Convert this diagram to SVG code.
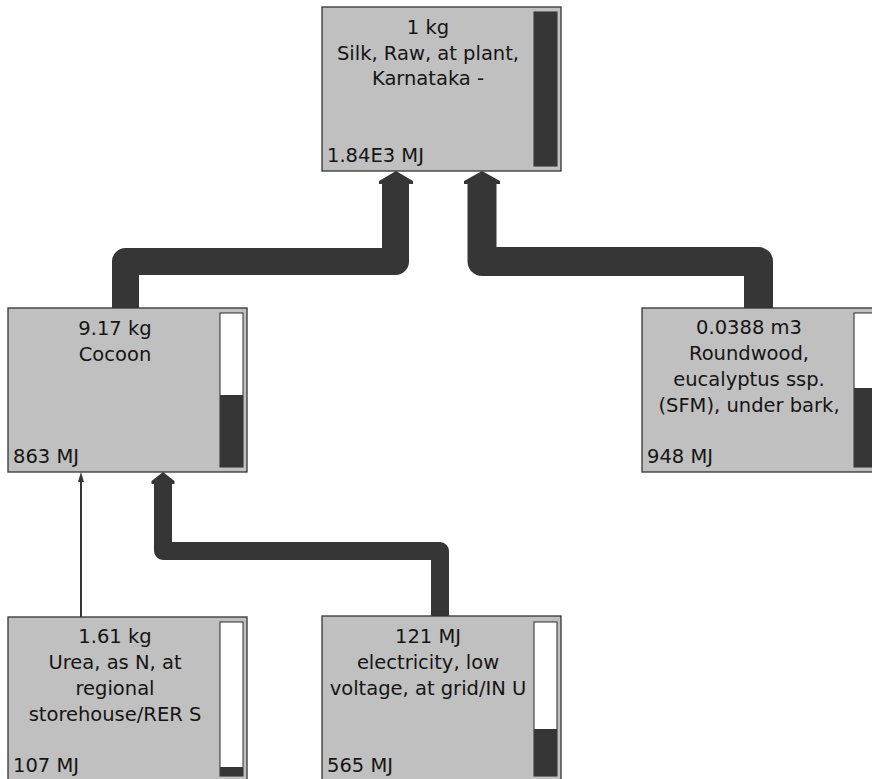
<svg xmlns="http://www.w3.org/2000/svg" width="872" height="779" viewBox="0 0 872 779">
<style>
.box{fill:#c0c0c0;stroke:#333333;stroke-width:1.3}
.bar{fill:#ffffff;stroke:#2a2a2a;stroke-width:1}
.lvl{fill:#363636}
.t{font-family:"DejaVu Sans",Verdana,sans-serif;font-size:19.5px;fill:#151515}
.c{text-anchor:middle}
.flow{fill:none;stroke:#363636;stroke-linejoin:round}
.head{fill:#363636}
</style>
<rect width="872" height="779" fill="#ffffff"/>
<g id="connectors">
<path class="flow" stroke-width="27" d="M125.5,308 V261.5 H395.5 V183"/>
<polygon class="head" points="396,171 413,181 413,184 379,184 379,181"/>
<path class="flow" stroke-width="29" d="M758.5,308 V261.5 H482 V183"/>
<polygon class="head" points="482,171 500,181 500,184 464,184 464,181"/>
<path class="flow" stroke-width="18" d="M440,616 V551 H163 V483"/>
<polygon class="head" points="163,472 174.5,481 174.5,484 151.5,484 151.5,481"/>
<line x1="81" y1="617" x2="81" y2="480" stroke="#363636" stroke-width="2"/>
<polygon class="head" points="81,472 84,482 78,482"/>
</g>
<g id="node-silk">
<rect class="box" x="322" y="7" width="239" height="164"/>
<rect class="bar" x="534" y="12" width="23" height="154"/>
<rect class="lvl" x="534" y="12" width="23" height="154"/>
<text class="t c" x="428" y="34">1 kg</text>
<text class="t c" x="428" y="60">Silk, Raw, at plant,</text>
<text class="t c" x="428" y="85">Karnataka -</text>
<text class="t" x="327" y="162">1.84E3 MJ</text>
</g>
<g id="node-cocoon">
<rect class="box" x="8" y="308" width="239" height="164"/>
<rect class="bar" x="220" y="313" width="23" height="154"/>
<rect class="lvl" x="220" y="395" width="23" height="72"/>
<text class="t c" x="115" y="335">9.17 kg</text>
<text class="t c" x="115" y="361">Cocoon</text>
<text class="t" x="13" y="463">863 MJ</text>
</g>
<g id="node-roundwood">
<rect class="box" x="642" y="308" width="239" height="164"/>
<rect class="bar" x="854" y="313" width="23" height="154"/>
<rect class="lvl" x="854" y="388" width="23" height="79"/>
<text class="t c" x="749" y="334">0.0388 m3</text>
<text class="t c" x="749" y="360">Roundwood,</text>
<text class="t c" x="749" y="386">eucalyptus ssp.</text>
<text class="t c" x="749" y="412">(SFM), under bark,</text>
<text class="t" x="647" y="463">948 MJ</text>
</g>
<g id="node-urea">
<rect class="box" x="8" y="617" width="239" height="164"/>
<rect class="bar" x="220" y="622" width="23" height="154"/>
<rect class="lvl" x="220" y="767" width="23" height="9"/>
<text class="t c" x="115" y="643">1.61 kg</text>
<text class="t c" x="115" y="669">Urea, as N, at</text>
<text class="t c" x="115" y="695">regional</text>
<text class="t c" x="115" y="721">storehouse/RER S</text>
<text class="t" x="13" y="772">107 MJ</text>
</g>
<g id="node-electricity">
<rect class="box" x="322" y="616" width="239" height="164"/>
<rect class="bar" x="534" y="622" width="23" height="154"/>
<rect class="lvl" x="534" y="729" width="23" height="47"/>
<text class="t c" x="428" y="643">121 MJ</text>
<text class="t c" x="428" y="669">electricity, low</text>
<text class="t c" x="428" y="695">voltage, at grid/IN U</text>
<text class="t" x="327" y="772">565 MJ</text>
</g>
</svg>
